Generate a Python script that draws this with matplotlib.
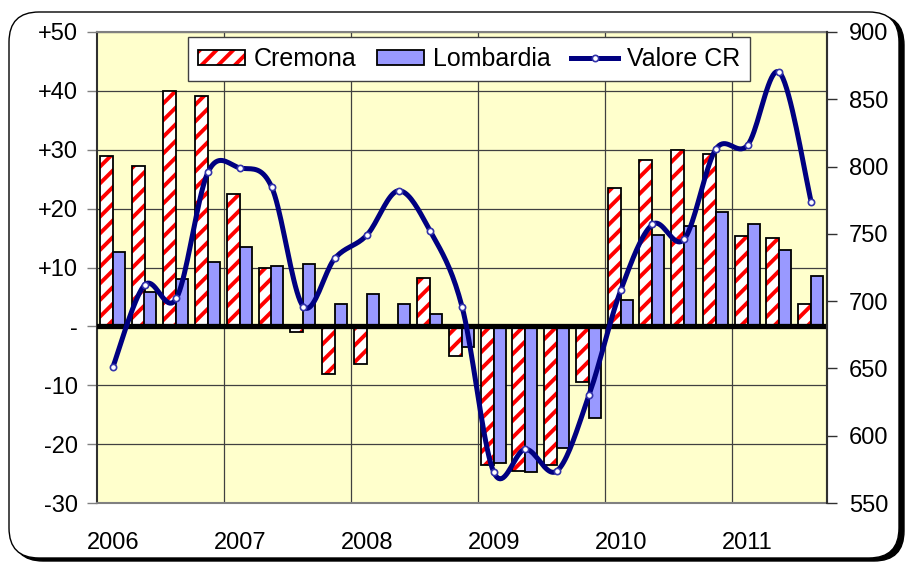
import matplotlib
matplotlib.use('Agg')
import matplotlib.pyplot as plt
import numpy as np
from matplotlib.patches import FancyBboxPatch, Patch
from matplotlib.lines import Line2D

plt.rcParams['font.family'] = ['Liberation Sans', 'DejaVu Sans']
plt.rcParams['hatch.linewidth'] = 2.8

# quarterly data, 2006 Q1 .. 2011 Q3
years = ['2006', '2007', '2008', '2009', '2010', '2011']
cremona = [29.0, 27.3, 39.9, 39.2, 22.5, 10.0, -1.0, -8.1,
           -6.4, 0.0, 8.3, -5.0, -23.6, -24.5, -23.6, -9.4,
           23.5, 28.3, 29.9, 29.3, 15.3, 15.0, 3.8]
lombardia = [12.7, 5.9, 8.0, 10.9, 13.4, 10.3, 10.6, 3.8,
             5.5, 3.8, 2.1, -3.5, -23.2, -24.7, -20.6, -15.5,
             4.5, 15.6, 17.0, 19.5, 17.4, 13.0, 8.6]
valore_cr = [651, 712, 702, 796, 799, 785, 696, 732,
             749, 782, 752, 696, 573, 590, 574, 630,
             708, 757, 746, 813, 816, 870, 774]
left_ticks = [-30, -20, -10, 0, 10, 20, 30, 40, 50]
left_labels = ['-30', '-20', '-10', '-', '+10', '+20', '+30', '+40', '+50']
right_ticks = [550, 600, 650, 700, 750, 800, 850, 900]

W, H, DPI = 908, 562, 100
NAVY = '#000080'


def smooth_curve(x, y, steps=20):
    # Bezier smoothing through every point, like a spreadsheet "smoothed line"
    x = np.asarray(x, float)
    y = np.asarray(y, float)
    px, py = [], []
    n = len(x)
    for i in range(n - 1):
        i0, i3 = max(i - 1, 0), min(i + 2, n - 1)
        c1x = x[i] + (x[i + 1] - x[i0]) / 6
        c1y = y[i] + (y[i + 1] - y[i0]) / 6
        c2x = x[i + 1] - (x[i3] - x[i]) / 6
        c2y = y[i + 1] - (y[i3] - y[i]) / 6
        t = np.linspace(0, 1, steps, endpoint=(i == n - 2))
        a, b, c, d = (1 - t) ** 3, 3 * t * (1 - t) ** 2, 3 * t ** 2 * (1 - t), t ** 3
        px.extend(a * x[i] + b * c1x + c * c2x + d * x[i + 1])
        py.extend(a * y[i] + b * c1y + c * c2y + d * y[i + 1])
    return px, py


fig = plt.figure(figsize=(W / DPI, H / DPI), dpi=DPI)
fig.patch.set_facecolor('white')

# rounded chart frame with a drop shadow
px2in = 1 / DPI
shadow = FancyBboxPatch((13 * px2in, 1 * px2in), 891 * px2in, 546 * px2in,
                        boxstyle='round,pad=0,rounding_size=0.3',
                        transform=fig.dpi_scale_trans, facecolor='black',
                        edgecolor='black', zorder=-3)
frame = FancyBboxPatch((9 * px2in, 4 * px2in), 890 * px2in, 546 * px2in,
                       boxstyle='round,pad=0,rounding_size=0.3',
                       transform=fig.dpi_scale_trans, facecolor='white',
                       edgecolor='black', lw=1.0, zorder=-2)
fig.add_artist(shadow)
fig.add_artist(frame)

ax = fig.add_axes([97 / W, 1 - 503 / H, 730 / W, 471 / H])
ax.set_facecolor('#FFFFCC')
x = np.arange(len(cremona))
bw = 0.41

ax.bar(x - bw / 2, cremona, bw, facecolor='white', edgecolor='red',
       hatch='//', linewidth=0, zorder=2)
ax.bar(x - bw / 2, cremona, bw, fill=False, edgecolor='black',
       linewidth=1.3, zorder=3)
ax.bar(x + bw / 2 - 0.02, lombardia, bw * 0.92, facecolor='#9999FF',
       edgecolor='black', linewidth=1.3, zorder=3)
ax.axhline(0, color='black', lw=3.8, zorder=4)

ax.set_xlim(-0.5, len(x) - 0.5)
ax.set_ylim(-30, 50)
ax.set_yticks(left_ticks)
ax.set_yticklabels(left_labels)
ax.set_xticks(np.arange(0, len(x), 4))
ax.set_xticklabels(years)
ax.set_xticks(np.arange(3.5, len(x) - 1, 4), minor=True)
ax.grid(True, axis='y', color='#404040', lw=0.9, zorder=1)
ax.grid(True, axis='x', which='minor', color='#404040', lw=0.9, zorder=1)
ax.set_axisbelow(True)
ax.tick_params(axis='y', labelsize=17, length=7, width=1, color='#808080', pad=7)
ax.tick_params(axis='x', which='both', labelsize=17, length=0, pad=21)
for s in ['left', 'bottom', 'top', 'right']:
    ax.spines[s].set_color('#808080')
    ax.spines[s].set_linewidth(1.5)
ax.spines['left'].set_color('#303030')

ax2 = ax.twinx()
sx, sy = smooth_curve(x, valore_cr)
ax2.plot(sx, sy, color=NAVY, lw=3.6, zorder=5, solid_capstyle='round')
ax2.plot(x, valore_cr, ls='none', marker='o', ms=4.5, mfc='white',
         mec='#3333AA', mew=1.2, zorder=6)
ax2.set_ylim(550, 900)
ax2.set_yticks(right_ticks)
ax2.tick_params(axis='y', labelsize=17, length=7, width=1, color='#303030', pad=9)
ax2.spines['right'].set_color('#303030')
ax2.spines['right'].set_linewidth(1.5)
for s in ['left', 'bottom', 'top']:
    ax2.spines[s].set_visible(False)

h_cre = (Patch(facecolor='white', edgecolor='red', hatch='//', linewidth=0),
         Patch(fill=False, edgecolor='black', linewidth=1.3))
h_lom = Patch(facecolor='#9999FF', edgecolor='black', linewidth=1.3)
h_val = Line2D([], [], color=NAVY, lw=3.6, marker='o', ms=4.5, mfc='white',
               mec='#3333AA', mew=1.2)
leg = ax2.legend([h_cre, h_lom, h_val], ['Cremona', 'Lombardia', 'Valore CR'],
                 loc='upper center', bbox_to_anchor=(469 / W, 1 - 37 / H),
                 bbox_transform=fig.transFigure, ncol=3, fontsize=18,
                 frameon=True, fancybox=False, framealpha=1, edgecolor='#404040',
                 handlelength=1.9, handleheight=0.55, handletextpad=0.35,
                 columnspacing=0.8, borderpad=0.4, borderaxespad=0)
leg.get_frame().set_linewidth(1.0)
leg.set_zorder(10)

fig.savefig('out.png', dpi=DPI, facecolor='white')
